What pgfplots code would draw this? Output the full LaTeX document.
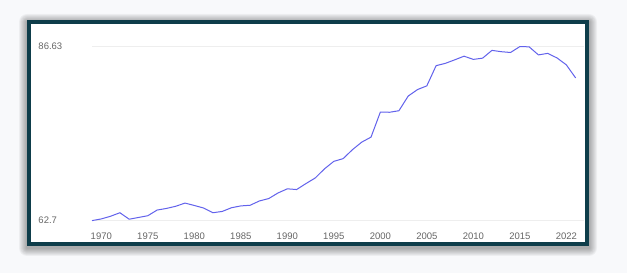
\documentclass[border=0pt]{standalone}
\usepackage{pgfplots}
\pgfplotsset{compat=1.18}
\usepackage{fontspec}
\setmainfont{Liberation Sans}
\definecolor{bg}{RGB}{248,249,251}
\definecolor{framec}{RGB}{14,61,74}
\definecolor{linec}{RGB}{98,98,236}
\definecolor{tickc}{RGB}{102,102,102}
\definecolor{gridc}{RGB}{238,238,238}
\begin{document}
\begin{tikzpicture}[x=1pt,y=1pt]
\fill[bg] (0,0) rectangle (627,273);
\useasboundingbox (0,0) rectangle (627,273);
\foreach \i in {1,...,8}{
  \fill[black,opacity=0.045,rounded corners=\i] (27-\i,25-\i) rectangle (589+\i,251+\i);
}
\fill[white] (27,27) rectangle (589,253);
\draw[framec, line width=4pt] (29,29) rectangle (587,251);
\begin{axis}[
  at={(92pt,52.4pt)}, anchor=south west,
  scale only axis, width=492pt, height=174pt,
  xmin=1969, xmax=2021.9, ymin=62.7, ymax=86.63,
  clip=false,
  axis line style={draw=none},
  tick style={draw=none},
  ymajorgrids, major grid style={gridc, line width=0.8pt},
  xtick={1970,1975,1980,1985,1990,1995,2000,2005,2010,2015,2020},
  xticklabels={1970,1975,1980,1985,1990,1995,2000,2005,2010,2015,2022},
  ytick={62.7,86.63},
  yticklabels={62.7,86.63},
  xticklabel style={anchor=base, yshift=-18.7pt, font=\fontsize{9.5}{11}\selectfont, text=tickc},
  yticklabel style={anchor=west, inner sep=0pt, xshift=-53.7pt, font=\fontsize{9.5}{11}\selectfont, text=tickc},
]
\addplot[linec, line width=1pt, mark=none] coordinates {
(1969,62.70) (1970,62.93) (1971,63.30) (1972,63.78) (1973,62.89) (1974,63.13)
(1975,63.37) (1976,64.15) (1977,64.37) (1978,64.67) (1979,65.11) (1980,64.78)
(1981,64.43) (1982,63.78) (1983,63.96) (1984,64.47) (1985,64.72) (1986,64.81)
(1987,65.40) (1988,65.73) (1989,66.50) (1990,67.07) (1991,66.97) (1992,67.79)
(1993,68.56) (1994,69.82) (1995,70.85) (1996,71.22) (1997,72.45) (1998,73.49)
(1999,74.18) (2000,77.61) (2001,77.60) (2002,77.81) (2003,79.83) (2004,80.72)
(2005,81.23) (2006,84.01) (2007,84.33) (2008,84.81) (2009,85.31) (2010,84.87)
(2011,85.04) (2012,86.11) (2013,85.93) (2014,85.82) (2015,86.63) (2016,86.60)
(2017,85.49) (2018,85.70) (2019,85.07) (2020,84.12) (2021,82.32)
};
\end{axis}
\end{tikzpicture}
\end{document}
